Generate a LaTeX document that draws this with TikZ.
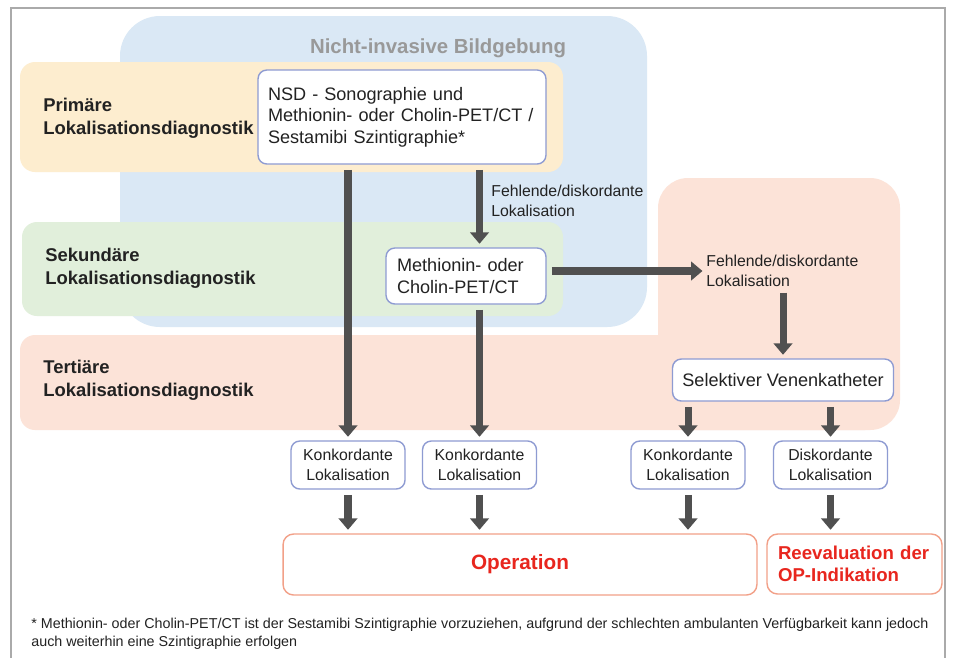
\documentclass[tikz,border=0pt]{standalone}
\usepackage{fontspec}
\setmainfont{Liberation Sans}
\usepackage{xcolor}
\usetikzlibrary{arrows.meta}
\usetikzlibrary{positioning}
\definecolor{bgblue}{HTML}{DAE8F5}
\definecolor{bgyellow}{HTML}{FDEDCF}
\definecolor{bggreen}{HTML}{E1EFDB}
\definecolor{bgsalmon}{HTML}{FCE3D8}
\definecolor{boxline}{HTML}{8E9BD2}
\definecolor{opline}{HTML}{F2A088}
\definecolor{optxt}{HTML}{E8261E}
\definecolor{arr}{HTML}{505050}
\definecolor{txt}{HTML}{222222}
\definecolor{frame}{HTML}{AAAAAA}

\begin{document}
\begin{tikzpicture}[x=0.02cm,y=-0.02cm]
	\tikzset{
		N/.style={draw=boxline,fill=white,rounded corners=5pt,line width=0.8pt,inner sep=0pt,text=txt,font=\fontsize{10.3}{12.3}\selectfont},
		S/.style={N,minimum width=2.28cm,minimum height=0.96cm,align=center,font=\fontsize{9}{11.3}\selectfont},
		R/.style={draw=opline,fill=white,rounded corners=6pt,line width=0.8pt,inner sep=0pt,text=optxt},
		L/.style={anchor=west,align=left,inner sep=0pt,text=txt,font=\bfseries\fontsize{10.5}{13}\selectfont},
		F/.style={anchor=west,align=left,inner sep=0pt,text=txt,font=\fontsize{9}{11.5}\selectfont},
		A/.style={draw=arr,line width=4pt,-{Triangle[width=10.5pt,length=6.5pt]},shorten <=3pt,shorten >=2pt},
	}
	
	\useasboundingbox (0,0) rectangle (955,657);
	\fill[white] (0,0) rectangle (955,657);
	\draw[frame,line width=0.7pt] (11,8) rectangle (945,680);
	
	% Hintergrundflaechen
	\fill[bgblue,rounded corners=0.8cm] (120,16) rectangle (647,327);
	\fill[bgyellow,rounded corners=0.3cm] (20,62) rectangle (563,172);
	\fill[bggreen,rounded corners=0.3cm] (22,222) rectangle (563,316);
	\fill[bgsalmon,rounded corners=0.3cm] (20,335) rectangle (880,430);
	\fill[bgsalmon,rounded corners=0.6cm] (658,178) rectangle (900,430);
	
	\node[text=black!40,font=\bfseries\fontsize{11.6}{14}\selectfont] (t) at (438,48) {Nicht-invasive Bildgebung};
	\node[L] (l1) at (43,118) {Primäre\\Lokalisationsdiagnostik};
	\node[L] (l2) at (45,268) {Sekundäre\\Lokalisationsdiagnostik};
	\node[L] (l3) at (43,380) {Tertiäre\\Lokalisationsdiagnostik};
	
	\node[N,align=left,text width=5.36cm,inner xsep=0.2cm,minimum height=1.88cm] (1) at (402,117) {
		NSD - Sonographie und\\
		Methionin- oder Cholin-PET/CT /\\
		Sestamibi Szintigraphie*
	};
	\node[N,align=left,text width=2.76cm,inner xsep=0.22cm,minimum height=1.12cm] (2) at (466,276) {Methionin- oder\\ Cholin-PET/CT};
	\node[F] (f1) at (491,201) {Fehlende/diskordante\\ Lokalisation};
	\node[F] (f2) at (706,271) {Fehlende/diskordante\\ Lokalisation};
	\node[N,minimum width=4.42cm,minimum height=0.84cm] (3) at (783,380) {Selektiver Venenkatheter};
	
	\node[S] (k1) at (348,465) {Konkordante\\ Lokalisation};
	\node[S] (k2) at (479.5,465) {Konkordante\\ Lokalisation};
	\node[S] (k3) at (688,465) {Konkordante\\ Lokalisation};
	\node[S] (k4) at (830.5,465) {Diskordante\\ Lokalisation};
	
	\node[R,minimum width=9.48cm,minimum height=1.22cm,font=\bfseries\fontsize{11.8}{14}\selectfont] (op) at (520,564.5) {Operation};
	\node[R,align=left,text width=3.06cm,inner xsep=0.22cm,minimum height=1.2cm,font=\bfseries\fontsize{10.6}{12.8}\selectfont] (re) at (854.5,564) {Reevaluation der\\ OP-Indikation};
	
	\node[anchor=west,align=left,inner sep=0pt,text=txt,font=\fontsize{8.15}{10.2}\selectfont] (fn) at (31,634) {* Methionin- oder Cholin-PET/CT ist der Sestamibi Szintigraphie vorzuziehen, aufgrund der schlechten ambulanten Verfügbarkeit kann jedoch\\ auch weiterhin eine Szintigraphie erfolgen};
	
	\draw[A] (k1 |- 1.south) -- (k1.north);
	\draw[A] (k2 |- 1.south) -- (k2 |- 2.north);
	\draw[A] (k2 |- 2.south) -- (k2.north);
	\draw[A] (2.east |- f2.west) -- (f2.west);
	\draw[A] (3 |- f2.south) -- (3.north);
	\draw[A] (k3 |- 3.south) -- (k3.north);
	\draw[A] (k4 |- 3.south) -- (k4.north);
	\draw[A] (k1.south) -- (k1 |- op.north);
	\draw[A] (k2.south) -- (k2 |- op.north);
	\draw[A] (k3.south) -- (k3 |- op.north);
	\draw[A] (k4.south) -- (k4 |- re.north);
\end{tikzpicture}
\end{document}
